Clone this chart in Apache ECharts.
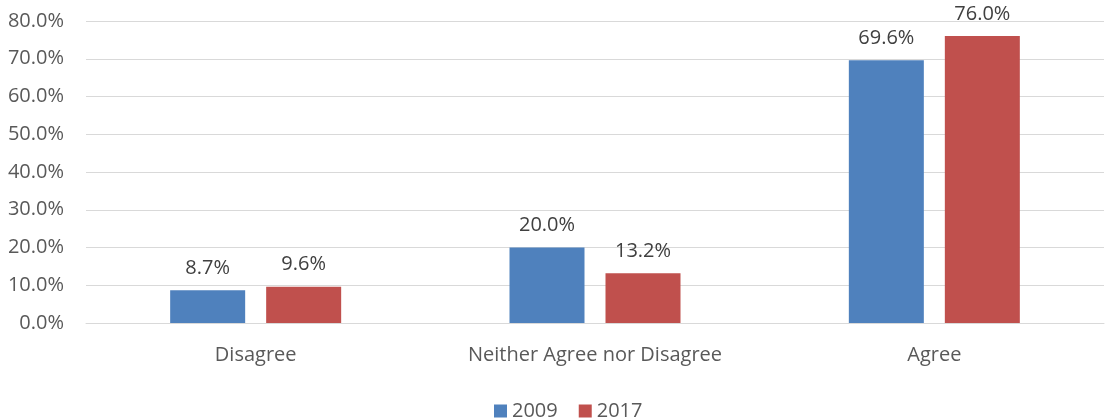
<!DOCTYPE html>
<html><head><meta charset="utf-8">
<script src="https://cdn.jsdelivr.net/npm/echarts@6/dist/echarts.min.js"></script>
<style>html,body{margin:0;padding:0;background:#fff}#c{width:1106px;height:419px}</style>
</head><body><div id="c"></div>
<script>
const categories = ['Disagree', 'Neither Agree nor Disagree', 'Agree'];
const seriesNames = ['2009', '2017'];
const values2009 = [8.7, 20.0, 69.6];
const values2017 = [9.6, 13.2, 76.0];
const colors = ['#4F81BD', '#C0504D'];
const font = 'Open Sans';
const fs = 20;
const chart = echarts.init(document.getElementById('c'));
const lbl = {show: true, position: 'top', distance: 12, color: '#404040', fontFamily: font, fontSize: fs,
  formatter: p => p.value.toFixed(1) + '%'};
chart.setOption({
  animation: false,
  grid: {left: 86, right: 2, top: 21, bottom: 96},
  legend: {top: 396, left: 489, itemWidth: 13, itemHeight: 13, itemGap: 21, icon: 'rect',
    textStyle: {color: '#595959', fontFamily: font, fontSize: fs}, data: seriesNames},
  xAxis: {type: 'category', data: categories, axisTick: {show: false},
    axisLine: {lineStyle: {color: '#D9D9D9', width: 1}},
    axisLabel: {color: '#595959', fontFamily: font, fontSize: fs, margin: 22}},
  yAxis: {type: 'value', min: 0, max: 80, interval: 10,
    axisLabel: {color: '#595959', fontFamily: font, fontSize: fs, margin: 22, formatter: v => v.toFixed(1) + '%'},
    splitLine: {lineStyle: {color: '#D9D9D9', width: 1}}, axisLine: {show: false}, axisTick: {show: false}},
  series: [
    {name: seriesNames[0], type: 'bar', data: values2009, barWidth: 75, barGap: '28%',
      itemStyle: {color: colors[0]}, label: lbl},
    {name: seriesNames[1], type: 'bar', data: values2017, barWidth: 75,
      itemStyle: {color: colors[1]}, label: lbl}
  ]
});
</script></body></html>
